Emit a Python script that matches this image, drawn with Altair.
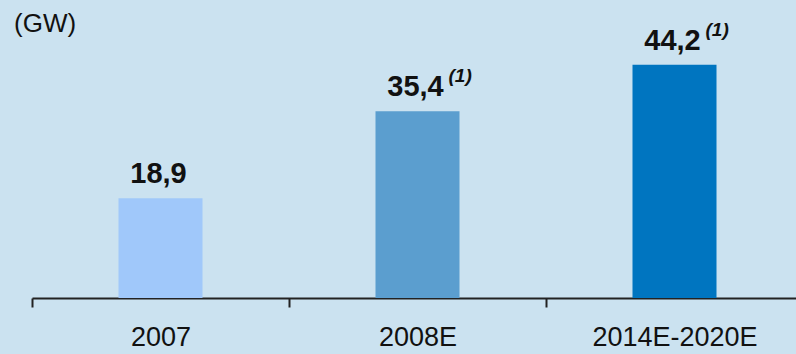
import altair as alt
import pandas as pd

# Installed capacity by period (GW)
periods = ["2007", "2008E", "2014E-2020E"]
capacity_gw = [18.9, 35.4, 44.2]
notes = ["", "(1)", "(1)"]
bar_colors = ["#a0c8fa", "#5b9ecf", "#0075c0"]

df = pd.DataFrame({
    "period": periods,
    "gw": capacity_gw,
    "label": [f"{v:.1f}".replace(".", ",") for v in capacity_gw],
    "note": notes,
})

FONT = "Liberation Sans"
BG = "#cbe2f0"

x = alt.X(
    "period:N",
    sort=periods,
    title=None,
    scale=alt.Scale(range=[0, 771], paddingInner=0, paddingOuter=0),
    axis=alt.Axis(
        labelAngle=0,
        labelFontSize=27,
        labelColor="#111111",
        labelPadding=17,
        domainColor="#222222",
        domainWidth=2,
        tickColor="#222222",
        tickWidth=2,
        tickSize=9,
        tickBand="extent",
        labelFont=FONT,
    ),
)
y = alt.Y("gw:Q", scale=alt.Scale(domain=[0, 56.5], nice=False, zero=True), axis=None)

base = alt.Chart(df)

bars = base.mark_bar(size=84).encode(
    x=x,
    y=y,
    color=alt.Color("period:N", scale=alt.Scale(domain=periods, range=bar_colors), legend=None),
)

values = base.mark_text(
    font=FONT, fontSize=29, fontWeight="bold", color="#111111",
    baseline="alphabetic", align="center", dy=-15, dx=-2,
).encode(x=x, y=y, text="label:N")

sup = base.mark_text(
    font=FONT, fontSize=19, fontWeight="bold", fontStyle="italic", color="#111111",
    baseline="alphabetic", align="left", dy=-29, dx=31,
).encode(x=x, y=y, text="note:N")

unit = alt.Chart(pd.DataFrame({"unit": ["(GW)"]})).mark_text(
    font=FONT, fontSize=26, color="#111111", baseline="alphabetic", align="left",
).encode(x=alt.value(-18), y=alt.value(32), text="unit:N")

chart = (
    alt.layer(bars, values, sup, unit)
    .properties(
        width=764,
        height=298,
        background=BG,
        autosize=alt.AutoSizeParams(type="none"),
        padding={"left": 32, "top": 0, "right": 0, "bottom": 56},
    )
    .configure_view(stroke=None)
)

chart.save("out.html", embed_options={"renderer": "svg", "actions": False})
